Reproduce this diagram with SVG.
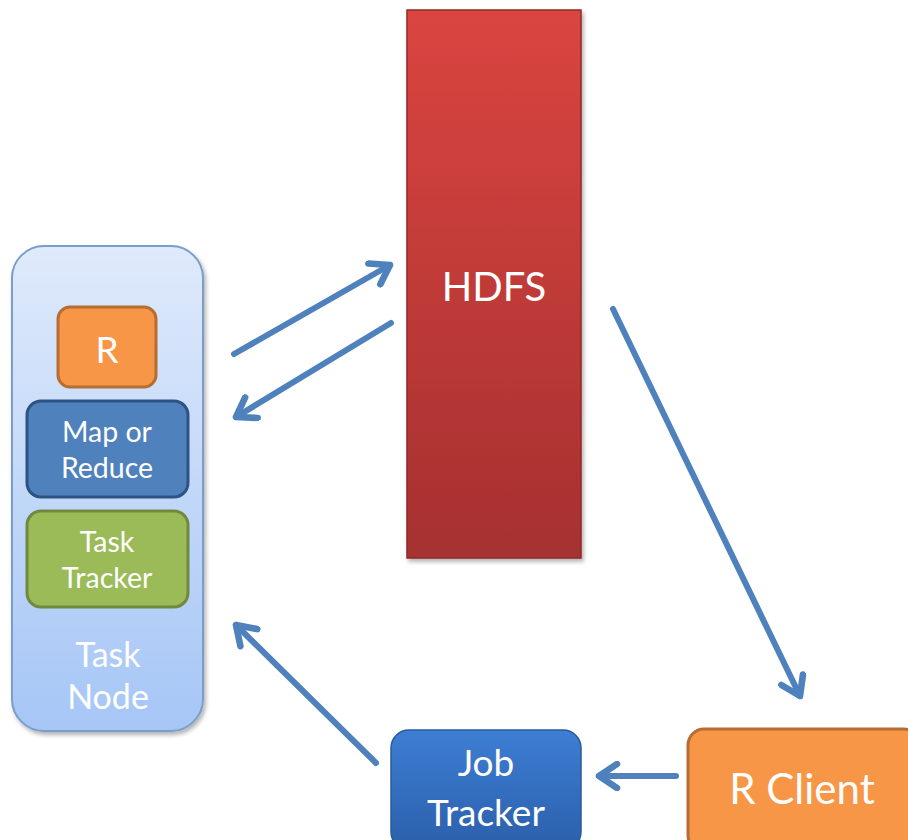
<svg xmlns="http://www.w3.org/2000/svg" width="908" height="840" viewBox="0 0 908 840">
<style>
.lbl{font-family:Lato,"Open Sans","Liberation Sans",sans-serif;fill:#ffffff;text-anchor:middle}
.conn{stroke:#4f81bd;stroke-width:6;fill:none;stroke-linecap:round}
</style>
<defs>
<linearGradient id="gNode" x1="0" y1="0" x2="0" y2="1"><stop offset="0" stop-color="#dfeafb"/><stop offset="1" stop-color="#a6c6f6"/></linearGradient>
<linearGradient id="gHdfs" x1="0" y1="0" x2="0" y2="1"><stop offset="0" stop-color="#da4540"/><stop offset="1" stop-color="#a63030"/></linearGradient>
<linearGradient id="gJob" x1="0" y1="0" x2="0" y2="1"><stop offset="0" stop-color="#3d7ed4"/><stop offset="1" stop-color="#2b5faa"/></linearGradient>
<marker id="ah" viewBox="0 0 10 10" refX="8" refY="5" markerWidth="5" markerHeight="5" orient="auto" markerUnits="strokeWidth">
<path d="M2,1 L8,5 L2,9" fill="none" stroke="#4f81bd" stroke-width="2.2" stroke-linecap="round" stroke-linejoin="round"/>
</marker>
<filter id="sh" x="-10%" y="-10%" width="130%" height="130%"><feDropShadow dx="2" dy="3" stdDeviation="2" flood-color="#000" flood-opacity="0.3"/></filter>
</defs>

<g id="task-node">
<rect x="12" y="246" width="191" height="485" rx="32" fill="url(#gNode)" stroke="#7b9cc9" stroke-width="2" filter="url(#sh)"/>
<text class="lbl" x="108" y="667" font-size="34">Task</text>
<text class="lbl" x="108" y="709" font-size="34">Node</text>
</g>
<g id="r">
<rect x="58" y="307" width="98" height="80" rx="12" fill="#f79646" stroke="#b66d31" stroke-width="3"/>
<text class="lbl" x="107" y="363" font-size="37">R</text>
</g>
<g id="map-reduce">
<rect x="27" y="401" width="161" height="96" rx="14" fill="#4f81bd" stroke="#2c5383" stroke-width="3"/>
<text class="lbl" x="107" y="442" font-size="28.5">Map or</text>
<text class="lbl" x="107" y="478" font-size="28.5">Reduce</text>
</g>
<g id="task-tracker">
<rect x="27" y="511" width="161" height="96" rx="14" fill="#9bbb59" stroke="#71893f" stroke-width="3"/>
<text class="lbl" x="107" y="552" font-size="28.5">Task</text>
<text class="lbl" x="107" y="588" font-size="28.5">Tracker</text>
</g>
<g id="hdfs">
<rect x="407" y="10" width="174" height="548" fill="url(#gHdfs)" stroke="#8f2a28" stroke-width="1.5" filter="url(#sh)"/>
<text class="lbl" x="494" y="301" font-size="40">HDFS</text>
</g>
<g id="job-tracker">
<rect x="391" y="730" width="190" height="120" rx="18" fill="url(#gJob)" stroke="#2a5a9c" stroke-width="1.5"/>
<text class="lbl" x="486" y="776" font-size="37">Job</text>
<text class="lbl" x="486" y="826" font-size="37">Tracker</text>
</g>
<g id="r-client">
<rect x="688" y="729" width="232" height="122" rx="16" fill="#f79646" stroke="#b66d31" stroke-width="3"/>
<text class="lbl" x="802" y="804" font-size="42">R Client</text>
</g>

<g id="connectors">
<line class="conn" x1="234" y1="354" x2="390" y2="265" marker-end="url(#ah)"/>
<line class="conn" x1="391" y1="323" x2="236" y2="417" marker-end="url(#ah)"/>
<line class="conn" x1="613" y1="309" x2="800" y2="696" marker-end="url(#ah)"/>
<line class="conn" x1="376" y1="763" x2="236" y2="625" marker-end="url(#ah)"/>
<line class="conn" x1="676" y1="776" x2="599" y2="776" marker-end="url(#ah)"/>
</g>
</svg>
